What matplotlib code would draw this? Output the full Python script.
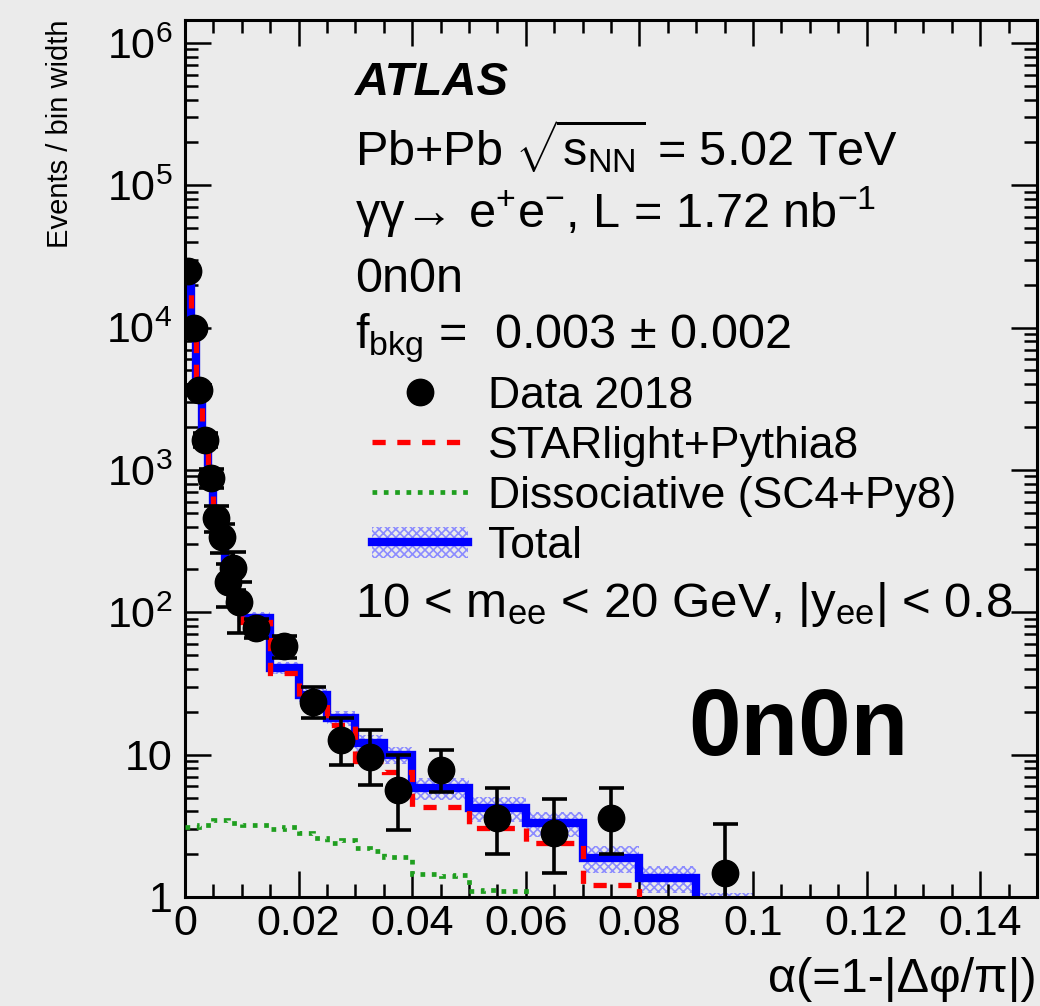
import numpy as np
import matplotlib.pyplot as plt
from matplotlib.lines import Line2D
from matplotlib.patches import Patch
from matplotlib.ticker import FixedLocator, FuncFormatter, NullFormatter

plt.rcParams['font.family'] = ['Liberation Sans', 'DejaVu Sans']
plt.rcParams['mathtext.fontset'] = 'custom'
plt.rcParams['mathtext.rm'] = 'Liberation Sans'
plt.rcParams['mathtext.it'] = 'Liberation Sans:italic'
plt.rcParams['mathtext.bf'] = 'Liberation Sans:bold'
plt.rcParams['hatch.linewidth'] = 1.2

# bin edges of the alpha histogram
edges = [0.0, 0.001, 0.002, 0.003, 0.004, 0.005, 0.006, 0.007, 0.008, 0.009, 0.010,
         0.015, 0.020, 0.025, 0.030, 0.035, 0.040,
         0.050, 0.060, 0.070, 0.080, 0.090, 0.100]

# data 2018 (events / bin width), nan = empty bin
data = [25100, 10000, 3660, 1630, 880, 460, 339, 164, 205, 118,
        78, 58, 23.5, 12.7, 9.6, 5.65,
        7.8, 3.59, 2.82, 3.59, np.nan, 1.47]
data_err_lo = [700, 450, 270, 180, 130, 95, 80, 55, 62, 46,
               12, 10, 5.4, 4.2, 3.5, 2.7,
               2.3, 1.6, 1.35, 1.6, np.nan, 1.4]
data_err_hi = [700, 450, 270, 180, 130, 95, 80, 55, 62, 46,
               12, 10, 6.4, 5.4, 5.3, 4.3,
               3.0, 2.2, 2.1, 2.2, np.nan, 1.8]

# STARlight+Pythia8
starlight = [22900, 9250, 3880, 1740, 895, 495, 318, 213, 163, 123,
             86, 37.5, 24.5, 16.2, 9.0, 7.56,
             4.29, 3.05, 2.4, 1.21, 0.9, 0.6]

# total prediction and its relative uncertainty
total = [23000, 9300, 3900, 1750, 900, 500, 320, 215, 165, 125,
         91, 40.7, 26.3, 18.1, 12.1, 9.95,
         5.83, 4.22, 3.31, 1.88, 1.36, 0.85]
total_rel_err = [0.05, 0.05, 0.05, 0.05, 0.05, 0.05, 0.05, 0.05, 0.05, 0.05,
                 0.10, 0.10, 0.12, 0.12, 0.14, 0.14,
                 0.18, 0.20, 0.20, 0.22, 0.22, 0.25]

# dissociative (SC4+Py8), finer binning
diss_edges = [0.0, 0.0025, 0.005, 0.0075, 0.01, 0.0125, 0.015, 0.0175, 0.02,
              0.0225, 0.025, 0.0275, 0.03, 0.0325, 0.035, 0.0375, 0.04,
              0.0425, 0.045, 0.0475, 0.05, 0.0525, 0.055, 0.0575, 0.06, 0.07]
diss = [3.1, 3.2, 3.5, 3.3, 3.2, 3.2, 3.0, 3.1,
        2.8, 2.6, 2.4, 2.5, 2.2, 2.1, 1.9, 1.9,
        1.45, 1.45, 1.4, 1.42, 1.1, 1.12, 1.1, 1.1, 0.8]

# axis ticks
x_major = [0.0, 0.02, 0.04, 0.06, 0.08, 0.10, 0.12, 0.14]
x_minor = [i * 0.005 for i in range(31)]
y_major = [1, 10, 1e2, 1e3, 1e4, 1e5, 1e6]
y_minor = [m * 10 ** e for e in range(7) for m in range(2, 10) if m * 10 ** e < 1.45e6]

total = np.array(total)
rel = np.array(total_rel_err)
centers = 0.5 * (np.array(edges[1:]) + np.array(edges[:-1]))

fig = plt.figure(figsize=(10.4, 10.06), dpi=100, facecolor='#ebebeb')
ax = fig.add_axes([185 / 1040, 109 / 1006, 852 / 1040, 877 / 1006])
ax.set_facecolor('#ebebeb')
ax.set_yscale('log')

band_col = '#8c8cff'
green = '#1f9f1f'
red_ls = (0, (2.5, 2.2))
green_ls = (0, (1.0, 1.4))

ax.stairs(total * (1 + rel), edges, baseline=total * (1 - rel), fill=True,
          facecolor='none', edgecolor=band_col, hatch='xxxx', lw=0, zorder=1)
ax.stairs(total, edges, baseline=None, color='blue', lw=6, zorder=2)
ax.stairs(starlight, edges, baseline=None, color='red', lw=3.8, ls=red_ls, zorder=3)
ax.stairs(diss, diss_edges, baseline=None, color=green, lw=3.4, ls=green_ls, zorder=3)
ax.errorbar(centers, data, yerr=[data_err_lo, data_err_hi], fmt='o', color='black',
            ms=19, elinewidth=2.6, capsize=9, capthick=2.6, zorder=5)

ax.set_xlim(0, 0.15)
ax.set_ylim(1, 1.45e6)

ax.xaxis.set_major_locator(FixedLocator(x_major))
ax.xaxis.set_minor_locator(FixedLocator(x_minor))
ax.xaxis.set_major_formatter(FuncFormatter(lambda v, p: '0' if abs(v) < 1e-9 else '%g' % v))
ax.yaxis.set_major_locator(FixedLocator(y_major))
ax.yaxis.set_minor_locator(FixedLocator(y_minor))
ax.yaxis.set_minor_formatter(NullFormatter())
ax.xaxis.set_minor_formatter(NullFormatter())


def ylab(v, p):
    e = int(round(np.log10(v)))
    if e == 0:
        return '1'
    if e == 1:
        return '10'
    return r'$\mathregular{10^{%d}}$' % e


ax.yaxis.set_major_formatter(FuncFormatter(ylab))
ax.tick_params(which='both', direction='in', top=True, right=True, width=1.8,
               labelsize=31)
ax.tick_params(which='major', length=19)
ax.tick_params(which='minor', length=9.5)
ax.tick_params(axis='x', pad=5)
ax.tick_params(axis='y', pad=9)
for s in ax.spines.values():
    s.set_linewidth(2.2)

ax.set_ylabel('Events / bin width', loc='top', fontsize=21)
ax.yaxis.set_label_coords(-0.1300, 1.0)
ax.set_xlabel('α(=1-|Δφ/π|)', loc='right', fontsize=35)
ax.xaxis.set_label_coords(1.0, -0.068)

tx = (355 - 185) / 852
def ay(py):
    return (897 - py) / 877

ax.text(tx, ay(95), 'ATLAS', transform=ax.transAxes, fontsize=34,
        fontweight='bold', fontstyle='italic', va='baseline')
ax.text(tx, ay(165), r'Pb+Pb $\sqrt{\mathregular{s_{NN}}}$ = 5.02 TeV', transform=ax.transAxes,
        fontsize=35, va='baseline')
ax.text(tx, ay(228), r'γγ$\!\rightarrow\!$ e$^{\mathregular{+}}$e$^{\mathregular{-}}$, L = 1.72 nb$^{\mathregular{-1}}$',
        transform=ax.transAxes, fontsize=35, va='baseline')
ax.text(tx, ay(292), '0n0n', transform=ax.transAxes, fontsize=35, va='baseline')
ax.text(tx, ay(348), r'f$_{\mathregular{bkg}}$ =  0.003 ± 0.002', transform=ax.transAxes,
        fontsize=35, va='baseline')
ax.text(tx, ay(617), r'10 < m$_{\mathregular{ee}}$ < 20 GeV, |y$_{\mathregular{ee}}$| < 0.8',
        transform=ax.transAxes, fontsize=35.5, va='baseline')
ax.text((688 - 185) / 852, ay(755), '0n0n', transform=ax.transAxes, fontsize=68,
        fontweight='bold', va='baseline')

h_data = Line2D([], [], marker='o', ls='none', color='black', ms=19)
h_red = Line2D([], [], color='red', lw=3.8, ls=red_ls)
h_green = Line2D([], [], color=green, lw=3.4, ls=green_ls)
h_total = (Patch(facecolor='none', edgecolor=band_col, hatch='xxxx', lw=0),
           Line2D([], [], color='blue', lw=6))
ax.legend([h_data, h_red, h_green, h_total],
          ['Data 2018', 'STARlight+Pythia8', 'Dissociative (SC4+Py8)', 'Total'],
          loc='upper left', bbox_to_anchor=((372 - 185) / 852, ay(376)),
          frameon=False, prop={'size': 32}, handlelength=2.15, handletextpad=0.45,
          labelspacing=0.2, borderpad=0, borderaxespad=0, numpoints=1)

fig.savefig('out.png', dpi=100, facecolor=fig.get_facecolor())
